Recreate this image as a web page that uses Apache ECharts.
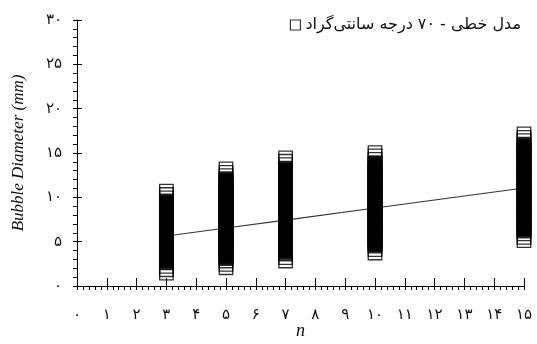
<!DOCTYPE html>
<html>
<head>
<meta charset="utf-8">
<script src="https://cdn.jsdelivr.net/npm/echarts@6/dist/echarts.min.js"></script>
<style>
html,body{margin:0;padding:0;background:#fff;}
#chart{width:537px;height:344px;}
</style>
</head>
<body>
<div id="chart"></div>
<script>
// Tick labels (Persian digits)
var xTickLabels = ['۰','۱','۲','۳','۴','۵','۶','۷','۸','۹','۱۰','۱۱','۱۲','۱۳','۱۴','۱۵'];
var yTickLabels = ['۰','۵','۱۰','۱۵','۲۰','۲۵','۳۰'];

// Measured bubble diameters (mm) per number of cycles n
// sparse points at the extremes of each column
var ends3 = [10.7,10.32,9.94,2.21,1.83,1.45];
var ends5 = [13.2,12.82,12.44,2.82,2.44,2.06];
var ends7 = [14.45,14.07,13.69,3.2,2.82];
var ends10 = [15.05,14.67,14.29,4.1,3.72];
var ends15 = [17.15,16.77,16.39,5.87,5.49,5.11];
// dense core of each column
var core3 = [9.6,9.4,9.2,9.0,8.8,8.6,8.4,8.2,8.0,7.8,7.6,7.4,7.2,7.0,6.8,6.6,6.4,6.2,6.0,5.8,5.6,5.4,5.2,5.0,4.8,4.6,4.4,4.2,4.0,3.8,3.6,3.4,3.2,3.0,2.8,2.6];
var core5 = [12.1,11.9,11.7,11.5,11.3,11.1,10.9,10.7,10.5,10.3,10.1,9.9,9.7,9.5,9.3,9.1,8.9,8.7,8.5,8.3,8.1,7.9,7.7,7.5,7.3,7.1,6.9,6.7,6.5,6.3,6.1,5.9,5.7,5.5,5.3,5.1,4.9,4.7,4.5,4.3,4.1,3.9,3.7,3.5,3.3,3.1];
var core7 = [13.3,13.1,12.9,12.7,12.5,12.3,12.1,11.9,11.7,11.5,11.3,11.1,10.9,10.7,10.5,10.3,10.1,9.9,9.7,9.5,9.3,9.1,8.9,8.7,8.5,8.3,8.1,7.9,7.7,7.5,7.3,7.1,6.9,6.7,6.5,6.3,6.1,5.9,5.7,5.5,5.3,5.1,4.9,4.7,4.5,4.3,4.1,3.9,3.6];
var core10 = [13.9,13.7,13.5,13.3,13.1,12.9,12.7,12.5,12.3,12.1,11.9,11.7,11.5,11.3,11.1,10.9,10.7,10.5,10.3,10.1,9.9,9.7,9.5,9.3,9.1,8.9,8.7,8.5,8.3,8.1,7.9,7.7,7.5,7.3,7.1,6.9,6.7,6.5,6.3,6.1,5.9,5.7,5.5,5.3,5.1,4.9,4.7,4.5];
var core15 = [16.0,15.8,15.6,15.4,15.2,15.0,14.8,14.6,14.4,14.2,14.0,13.8,13.6,13.4,13.2,13.0,12.8,12.6,12.4,12.2,12.0,11.8,11.6,11.4,11.2,11.0,10.8,10.6,10.4,10.2,10.0,9.8,9.6,9.4,9.2,9.0,8.8,8.6,8.4,8.2,8.0,7.8,7.6,7.4,7.2,7.0,6.8,6.6,6.4,6.2];
var nValues = [3, 5, 7, 10, 15];
var endCols = [ends3, ends5, ends7, ends10, ends15];
var coreCols = [core3, core5, core7, core10, core15];

// Linear model line
var lineX = [3, 5, 7, 10, 15];
var lineY = [5.64, 6.54, 7.44, 8.8, 11.05];

var seriesName = 'مدل خطی - ۷۰ درجه سانتی‌گراد';

function pairs(cols) {
  var out = [];
  for (var i = 0; i < nValues.length; i++) {
    for (var j = 0; j < cols[i].length; j++) out.push([nValues[i], cols[i][j]]);
  }
  return out;
}
var endData = pairs(endCols);
var coreData = pairs(coreCols);
var lineData = lineX.map(function (x, k) { return [x, lineY[k]]; });

var labelFont = {fontFamily: 'DejaVu Sans', fontSize: 15, color: '#111'};

var chart = echarts.init(document.getElementById('chart'), null, {renderer: 'canvas'});
chart.setOption({
  animation: false,
  backgroundColor: '#fff',
  grid: {left: 77, right: 13, top: 20, bottom: 58, containLabel: false, outerBoundsMode: 'none'},
  legend: {
    show: true,
    data: [seriesName],
    right: 11, top: 12,
    align: 'left',
    itemWidth: 10, itemHeight: 10, itemGap: 6,
    icon: 'rect',
    itemStyle: {color: 'rgba(0,0,0,0)', borderColor: '#000', borderWidth: 1.2},
    textStyle: {fontFamily: 'DejaVu Sans', fontSize: 16, color: '#111'}
  },
  xAxis: [{
    type: 'value', min: 0, max: 15, interval: 1, position: 'bottom',
    name: 'n', nameLocation: 'middle', nameGap: 36, nameMoveOverlap: false,
    nameTextStyle: {fontFamily: 'Liberation Serif', fontStyle: 'italic', fontSize: 18, color: '#111'},
    axisLine: {show: true, onZero: false, lineStyle: {color: '#000', width: 1}},
    axisTick: {show: true, inside: false, length: 4, lineStyle: {color: '#000'}},
    minorTick: {show: true, splitNumber: 5, length: 4, lineStyle: {color: '#000'}},
    splitLine: {show: false}, minorSplitLine: {show: false},
    axisLabel: Object.assign({margin: 22, formatter: function (v) { return xTickLabels[Math.round(v)]; }}, labelFont)
  }, {
    type: 'value', min: 0, max: 15, interval: 1, position: 'bottom', offset: 0,
    axisLine: {show: false},
    axisTick: {show: true, inside: true, length: 8, lineStyle: {color: '#000'}},
    axisLabel: {show: false}, splitLine: {show: false}
  }],
  yAxis: [{
    type: 'value', min: 0, max: 30, interval: 5, position: 'left',
    name: 'Bubble Diameter (mm)', nameLocation: 'middle', nameGap: 50, nameMoveOverlap: false,
    nameTextStyle: {fontFamily: 'Liberation Serif', fontStyle: 'italic', fontSize: 17, color: '#111'},
    axisLine: {show: true, onZero: false, lineStyle: {color: '#000', width: 1}},
    axisTick: {show: true, inside: false, length: 4, lineStyle: {color: '#000'}},
    minorTick: {show: true, splitNumber: 5, length: 4, lineStyle: {color: '#000'}},
    splitLine: {show: false}, minorSplitLine: {show: false},
    axisLabel: Object.assign({margin: 15, formatter: function (v) { return yTickLabels[Math.round(v / 5)]; }}, labelFont)
  }, {
    type: 'value', min: 0, max: 30, interval: 5, position: 'left', offset: 0,
    axisLine: {show: false},
    axisTick: {show: true, inside: true, length: 5, lineStyle: {color: '#000'}},
    axisLabel: {show: false}, splitLine: {show: false}
  }],
  series: [{
    name: 'linear', type: 'line', xAxisIndex: 0, yAxisIndex: 0,
    data: lineData, showSymbol: false, symbol: 'none',
    lineStyle: {color: '#333', width: 1.2}, z: 2, silent: true
  }, {
    name: seriesName, type: 'scatter', xAxisIndex: 0, yAxisIndex: 0,
    data: endData, symbol: 'rect', symbolSize: 13.5,
    itemStyle: {color: 'rgba(0,0,0,0)', borderColor: '#000', borderWidth: 1.3},
    emphasis: {disabled: true}, z: 3, silent: true
  }, {
    name: seriesName, type: 'scatter', xAxisIndex: 0, yAxisIndex: 0,
    data: coreData, symbol: 'rect', symbolSize: 13.5,
    itemStyle: {color: '#000', borderColor: '#000', borderWidth: 1.3},
    emphasis: {disabled: true}, z: 3, silent: true
  }]
});
</script>
</body>
</html>
